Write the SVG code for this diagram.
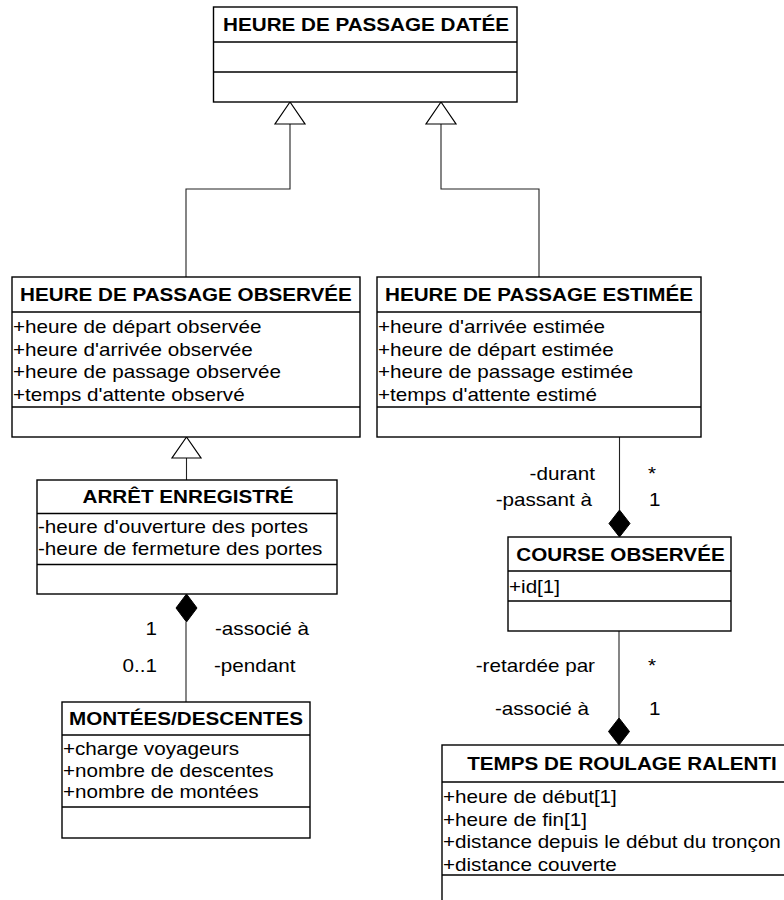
<svg xmlns="http://www.w3.org/2000/svg" width="784" height="900" viewBox="0 0 784 900">
<style>
.box{fill:#fff;stroke:#000;stroke-width:1.4}
.sep{stroke:#000;stroke-width:1.4}
.t{font-family:"Liberation Sans",Arial,sans-serif;font-size:17.5px;fill:#000}
.h{font-weight:bold;text-anchor:middle}
.e{text-anchor:end}
.con{fill:none;stroke:#222;stroke-width:1.1}
.gen{fill:#fff;stroke:#000;stroke-width:1.2}
.dia{fill:#000;stroke:#000;stroke-width:1}
</style>
<rect width="784" height="900" fill="#fff"/>
<g id="connectors">
<path class="con" d="M186,277 V189 H290 V124"/>
<polygon class="gen" points="290,102 275,124 305,124"/>
<path class="con" d="M539,277 V189 H441 V124"/>
<polygon class="gen" points="441,102 426,124 456,124"/>
<path class="con" d="M186.5,458 V480"/>
<polygon class="gen" points="186.5,437 172,458 201,458"/>
<path class="con" d="M186,622 V702"/>
<polygon class="dia" points="186.5,594 197,608 186.5,622 176,608"/>
<path class="con" d="M619.5,437 V510"/>
<polygon class="dia" points="619.5,510 630,523.5 619.5,537 609,523.5"/>
<path class="con" d="M619,631 V718"/>
<polygon class="dia" points="619,718 629.5,731.5 619,745 608.5,731.5"/>
<text class="t e" transform="matrix(1.18 0 0 1 595 480)">-durant</text>
<text class="t" transform="matrix(1.18 0 0 1 648 480)">*</text>
<text class="t e" transform="matrix(1.18 0 0 1 592 506)">-passant à</text>
<text class="t" transform="matrix(1.18 0 0 1 649 506)">1</text>
<text class="t e" transform="matrix(1.18 0 0 1 595 672)">-retardée par</text>
<text class="t" transform="matrix(1.18 0 0 1 648 672)">*</text>
<text class="t e" transform="matrix(1.18 0 0 1 589 715)">-associé à</text>
<text class="t" transform="matrix(1.18 0 0 1 649 715)">1</text>
<text class="t e" transform="matrix(1.18 0 0 1 157 635)">1</text>
<text class="t" transform="matrix(1.18 0 0 1 215 635)">-associé à</text>
<text class="t e" transform="matrix(1.18 0 0 1 157 672)">0..1</text>
<text class="t" transform="matrix(1.18 0 0 1 214 672)">-pendant</text>
</g>
<g id="heure-datee">
<rect class="box" x="213.5" y="7" width="303.5" height="95"/>
<line class="sep" x1="213.5" y1="42" x2="517" y2="42"/>
<line class="sep" x1="213.5" y1="72" x2="517" y2="72"/>
<text class="t h" transform="matrix(1.18 0 0 1 366 30.5)">HEURE DE PASSAGE DATÉE</text>
</g>
<g id="heure-observee">
<rect class="box" x="12" y="277" width="348" height="160"/>
<line class="sep" x1="12" y1="312" x2="360" y2="312"/>
<line class="sep" x1="12" y1="407" x2="360" y2="407"/>
<text class="t h" transform="matrix(1.18 0 0 1 186 301)">HEURE DE PASSAGE OBSERVÉE</text>
<text class="t" transform="matrix(1.18 0 0 1 13 333)">+heure de départ observée</text>
<text class="t" transform="matrix(1.18 0 0 1 13 355.5)">+heure d'arrivée observée</text>
<text class="t" transform="matrix(1.18 0 0 1 13 378)">+heure de passage observée</text>
<text class="t" transform="matrix(1.18 0 0 1 13 400.5)">+temps d'attente observé</text>
</g>
<g id="heure-estimee">
<rect class="box" x="377" y="277" width="324" height="160"/>
<line class="sep" x1="377" y1="312" x2="701" y2="312"/>
<line class="sep" x1="377" y1="407" x2="701" y2="407"/>
<text class="t h" transform="matrix(1.18 0 0 1 539 301)">HEURE DE PASSAGE ESTIMÉE</text>
<text class="t" transform="matrix(1.18 0 0 1 378 333)">+heure d'arrivée estimée</text>
<text class="t" transform="matrix(1.18 0 0 1 378 355.5)">+heure de départ estimée</text>
<text class="t" transform="matrix(1.18 0 0 1 378 378)">+heure de passage estimée</text>
<text class="t" transform="matrix(1.18 0 0 1 378 400.5)">+temps d'attente estimé</text>
</g>
<g id="arret-enregistre">
<rect class="box" x="37" y="480" width="300" height="114"/>
<line class="sep" x1="37" y1="513.5" x2="337" y2="513.5"/>
<line class="sep" x1="37" y1="564.5" x2="337" y2="564.5"/>
<text class="t h" transform="matrix(1.18 0 0 1 188 503)">ARRÊT ENREGISTRÉ</text>
<text class="t" transform="matrix(1.18 0 0 1 38 533)">-heure d'ouverture des portes</text>
<text class="t" transform="matrix(1.18 0 0 1 38 555)">-heure de fermeture des portes</text>
</g>
<g id="montees-descentes">
<rect class="box" x="62" y="702" width="248" height="136"/>
<line class="sep" x1="62" y1="735" x2="310" y2="735"/>
<line class="sep" x1="62" y1="807" x2="310" y2="807"/>
<text class="t h" transform="matrix(1.18 0 0 1 186 725)">MONTÉES/DESCENTES</text>
<text class="t" transform="matrix(1.18 0 0 1 63 755)">+charge voyageurs</text>
<text class="t" transform="matrix(1.18 0 0 1 63 776.5)">+nombre de descentes</text>
<text class="t" transform="matrix(1.18 0 0 1 63 798)">+nombre de montées</text>
</g>
<g id="course-observee">
<rect class="box" x="508" y="537" width="223" height="94"/>
<line class="sep" x1="508" y1="571" x2="731" y2="571"/>
<line class="sep" x1="508" y1="601" x2="731" y2="601"/>
<text class="t h" transform="matrix(1.18 0 0 1 620.5 560.5)">COURSE OBSERVÉE</text>
<text class="t" transform="matrix(1.18 0 0 1 509 593)">+id[1]</text>
</g>
<g id="temps-roulage-ralenti">
<rect class="box" x="442" y="745" width="360" height="165"/>
<line class="sep" x1="442" y1="782" x2="802" y2="782"/>
<line class="sep" x1="442" y1="875" x2="802" y2="875"/>
<text class="t h" transform="matrix(1.18 0 0 1 622 770)">TEMPS DE ROULAGE RALENTI</text>
<text class="t" transform="matrix(1.18 0 0 1 443 803)">+heure de début[1]</text>
<text class="t" transform="matrix(1.18 0 0 1 443 825.5)">+heure de fin[1]</text>
<text class="t" transform="matrix(1.18 0 0 1 443 848)">+distance depuis le début du tronçon</text>
<text class="t" transform="matrix(1.18 0 0 1 443 870.5)">+distance couverte</text>
</g>
</svg>
